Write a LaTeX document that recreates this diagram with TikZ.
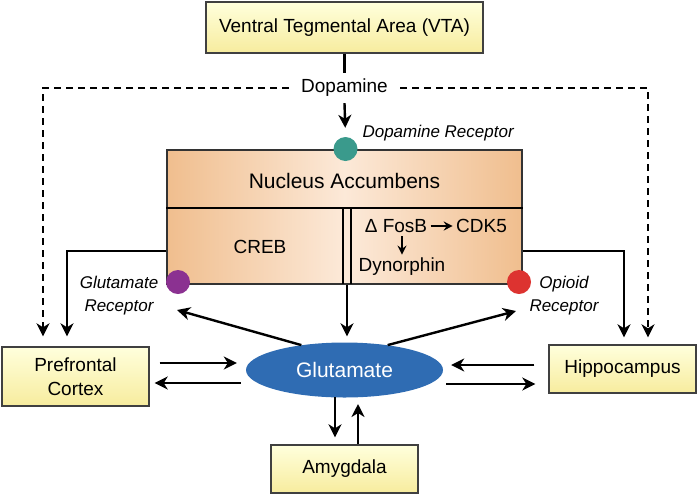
\documentclass[tikz,border=0pt]{standalone}
\usepackage{fontspec}
\setmainfont{Liberation Sans}
\usetikzlibrary{calc,arrows,arrows.meta,shapes,positioning}

\definecolor{boxtop}{HTML}{FFFFDC}
\definecolor{boxbot}{HTML}{F7EC9E}
\definecolor{nacdark}{HTML}{F0BE8E}
\definecolor{naclight}{HTML}{FCE9D8}
\definecolor{darec}{HTML}{3A9A8C}
\definecolor{glurec}{HTML}{8B3191}
\definecolor{oprec}{HTML}{DD3330}
\definecolor{glublue}{HTML}{2F6CB3}

\begin{document}
\begin{tikzpicture}[x=1pt,y=-1pt,
      every node/.style={font=\fontsize{19}{24}\selectfont},
      region/.style={draw=black!75,line width=1.4pt,rectangle,top color=boxtop,
        bottom color=boxbot,align=center,minimum width=147pt},
      recep/.style={circle,inner sep=0pt,minimum size=24pt},
      lab/.style={font=\fontsize{17}{23}\selectfont\itshape,align=center},
      link/.style={-{Stealth[length=13pt,width=13pt,inset=4pt]},line width=2.4pt},
      minilink/.style={-{Stealth[length=9pt,width=9pt,inset=3pt]},line width=1.8pt}]
    \useasboundingbox (0,0) rectangle (700,496);

    % nucleus accumbens box
    \shade[left color=nacdark,right color=nacdark,middle color=naclight] (167,150) rectangle (522,208);
    \shade[left color=nacdark,right color=naclight] (167,208) rectangle (343,284);
    \fill[naclight] (343,208) rectangle (351,284);
    \shade[left color=naclight,right color=nacdark] (351,208) rectangle (522,284);
    \node[draw=black!80,line width=1.4pt,minimum width=355pt,minimum height=134pt,inner sep=0pt](nac) at (344.5,217){};
    \draw[line width=1.4pt] (nac.west |- 0,208) -- (nac.east |- 0,208);
    \draw[line width=1.4pt] (343,208) -- (343,284);
    \draw[line width=1.4pt] (351,208) -- (351,284);
    \node(nact) at (344.5,181){\fontsize{21}{24}\selectfont Nucleus Accumbens};
    \node(creb) at (260,247){CREB};
    \node(fosb) at (396,226){Δ FosB};
    \node[right=22pt of fosb](cdk){CDK5};
    \node(dyn) at (402,267){Dynorphin};
    \draw[minilink] (fosb.east) -- (cdk.west);
    \draw[minilink] (fosb.south -| dyn.north) -- (dyn.north);

    % regions
    \node[region,minimum width=277pt,minimum height=51pt](vta) at (344.5,27.5){Ventral Tegmental Area (VTA)};
    \node[region,minimum height=59pt](pfc) at (75.5,376.5){Prefrontal\\Cortex};
    \node[region,minimum height=48pt](hip) at (622.5,369){Hippocampus};
    \node[region,minimum height=48pt](amy) at (344.5,469){Amygdala};
    \node[ellipse,fill=glublue,text=white,minimum width=197pt,minimum height=55pt](glu) at (344.5,370){\fontsize{21}{24}\selectfont Glutamate};

    % dopamine
    \node[inner xsep=12pt,inner ysep=0pt,minimum height=30pt](dop) at (344.5,88){Dopamine};
    \node[recep,fill=darec](da) at (345.5,149){};
    \node[lab,anchor=west](dal) at (359,133){Dopamine Receptor};
    \draw[line width=2.2pt] (vta.south) -- (dop.north);
    \draw[link,shorten >=9pt] (dop.south) -- (da.north);
    \draw[link,line width=2pt,dash pattern=on 7pt off 5pt,shorten >=10pt] (dop.west) -| ([xshift=-32.5pt]pfc.north);
    \draw[link,line width=2pt,dash pattern=on 7pt off 5pt,shorten >=7pt] (dop.east) -| ([xshift=25.5pt]hip.north);

    % receptors
    \node[recep,fill=glurec](glr) at (178,282){};
    \node[lab](glrl) at (119,296){Glutamate\\Receptor};
    \node[recep,fill=oprec](opr) at (519,282){};
    \node[lab](oprl) at (564,296){Opioid\\Receptor};
    \coordinate(glrtip) at (177,310);
    \coordinate(oprtip) at (516,311);

    % outputs of nucleus accumbens
    \draw[link,shorten >=10pt] ([yshift=-34pt]nac.west) -| ([xshift=-8.5pt]pfc.north);
    \draw[link,shorten >=7pt] ([yshift=-34pt]nac.east) -| ([xshift=1.5pt]hip.north);
    \draw[link,shorten >=6pt] (nac.south -| 347,0) -- (glu.north -| 347,0);
    \draw[link] (glu.150) -- (glrtip);
    \draw[link] (glu.30) -- (oprtip);

    % glutamate links
    \draw[link,shorten <=10pt,shorten >=9pt] (pfc.east |- 0,363) -- (glu.west |- 0,363);
    \draw[link,shorten <=5pt,shorten >=5pt] (glu.west |- 0,383) -- (pfc.east |- 0,383);
    \draw[link,shorten <=14pt,shorten >=8pt] (hip.west |- 0,365) -- (glu.east |- 0,365);
    \draw[link,shorten <=3pt,shorten >=13pt] (glu.east |- 0,384) -- (hip.west |- 0,384);
    \draw[link,shorten >=7pt] (335,397) -- (amy.north -| 335,0);
    \draw[link,shorten >=7pt] (amy.north -| 358,0) -- (358,397);

\end{tikzpicture}
\end{document}
